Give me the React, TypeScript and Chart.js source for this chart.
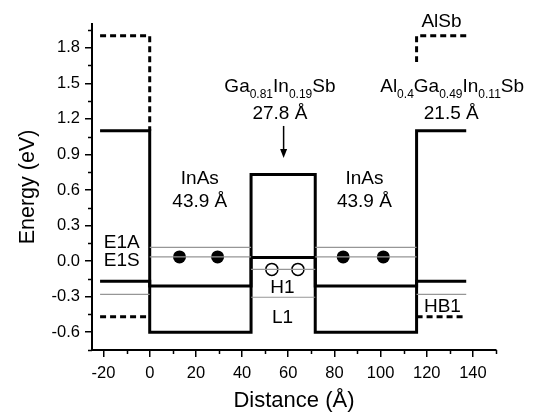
import { useEffect, useRef } from "react";
import { Chart, registerables } from "chart.js";

Chart.register(...registerables);

const FONT = '"Liberation Sans", Arial, Helvetica, sans-serif';

// axis ticks
const X_TICKS = [-20, 0, 20, 40, 60, 80, 100, 120, 140];
const X_MINOR = [-10, 10, 30, 50, 70, 90, 110, 130, 150];
const Y_TICKS = [-0.6, -0.3, 0.0, 0.3, 0.6, 0.9, 1.2, 1.5, 1.8];
const Y_MINOR = [-0.75, -0.45, -0.15, 0.15, 0.45, 0.75, 1.05, 1.35, 1.65, 1.95];

// band profile (distance in Å, energy in eV)
const PROFILE_X = [-21.5, 0, 0, 43.9, 43.9, 71.7, 71.7, 115.6, 115.6, 137.1];
const UPPER_Y = [1.1, 1.1, -0.6, -0.6, 0.73, 0.73, -0.6, -0.6, 1.1, 1.1];
const LOWER_Y = [-0.17, -0.17, -0.21, -0.21, 0.03, 0.03, -0.21, -0.21, -0.17, -0.17];

// AlSb (dashed)
const ALSB_LEFT_X = [-21.5, 0, 0];
const ALSB_LEFT_Y = [1.9, 1.9, 1.1];
const ALSB_RIGHT_X = [137.1, 115.6, 115.6];
const ALSB_RIGHT_Y = [1.9, 1.9, 1.68];
const ALSB_LOW_LEFT_X = [-21.5, 0];
const ALSB_LOW_RIGHT_X = [115.6, 137.1];
const ALSB_LOW_Y = -0.47;

// subband levels (thin gray)
const WELL1_X = [0, 43.9];
const WELL2_X = [71.7, 115.6];
const MID_X = [43.9, 71.7];
const BARRIER_LEFT_X = [-21.5, 0];
const BARRIER_RIGHT_X = [115.6, 137.1];
const E1A = 0.115;
const E1S = 0.035;
const H1 = -0.07;
const L1 = -0.305;
const HB1 = -0.28;

// carriers
const ELECTRON_X = [12.9, 29.4, 83.8, 101.2];
const HOLE_X = [52.9, 64.2];

// arrow
const ARROW_X = 58;
const ARROW_Y = [1.14, 0.87];

// text annotations: parts [text, isSubscript], x, y (cap centre)
type Part = [string, boolean];
const LABELS: { parts: Part[]; x: number; y: number }[] = [
  { parts: [["InAs", false]], x: 21.7, y: 0.71 },
  { parts: [["43.9 Å", false]], x: 21.7, y: 0.513 },
  { parts: [["InAs", false]], x: 93.0, y: 0.71 },
  { parts: [["43.9 Å", false]], x: 93.0, y: 0.513 },
  { parts: [["Ga", false], ["0.81", true], ["In", false], ["0.19", true], ["Sb", false]], x: 56.4, y: 1.486 },
  { parts: [["27.8 Å", false]], x: 56.4, y: 1.26 },
  { parts: [["Al", false], ["0.4", true], ["Ga", false], ["0.49", true], ["In", false], ["0.11", true], ["Sb", false]], x: 131, y: 1.486 },
  { parts: [["21.5 Å", false]], x: 130.6, y: 1.26 },
  { parts: [["AlSb", false]], x: 126.4, y: 2.035 },
  { parts: [["E1A", false]], x: -12.1, y: 0.167 },
  { parts: [["E1S", false]], x: -12.1, y: 0.012 },
  { parts: [["H1", false]], x: 57.5, y: -0.214 },
  { parts: [["L1", false]], x: 57.5, y: -0.464 },
  { parts: [["HB1", false]], x: 126.8, y: -0.369 },
];

const pts = (xs: number[], ys: number[] | number) =>
  xs.map((x, i) => ({ x, y: Array.isArray(ys) ? ys[i] : ys }));

const line = (data: { x: number; y: number }[], opts: any = {}) => ({
  data,
  showLine: true,
  pointRadius: 0,
  borderColor: "#000",
  borderWidth: 3,
  borderCapStyle: "butt",
  borderJoinStyle: "miter",
  fill: false,
  ...opts,
});

const gray = { borderColor: "#969696", borderWidth: 1.2 };
const dashed = { borderDash: [6, 4] };

const extras = {
  id: "extras",
  afterDraw(chart: any) {
    const { ctx, scales } = chart;
    const xs = scales.x;
    const ys = scales.y;
    const area = chart.chartArea;
    ctx.save();
    // minor ticks
    ctx.strokeStyle = "#000";
    ctx.lineWidth = 1.5;
    ctx.beginPath();
    X_MINOR.forEach((v) => {
      const px = Math.round(xs.getPixelForValue(v)) + 0.5;
      ctx.moveTo(px, area.bottom);
      ctx.lineTo(px, area.bottom + 4);
    });
    Y_MINOR.forEach((v) => {
      const py = Math.round(ys.getPixelForValue(v)) + 0.5;
      ctx.moveTo(area.left - 4, py);
      ctx.lineTo(area.left, py);
    });
    ctx.stroke();

    // arrow
    const ax = xs.getPixelForValue(ARROW_X);
    const ay0 = ys.getPixelForValue(ARROW_Y[0]);
    const ay1 = ys.getPixelForValue(ARROW_Y[1]);
    ctx.lineWidth = 1.5;
    ctx.beginPath();
    ctx.moveTo(ax, ay0);
    ctx.lineTo(ax, ay1 - 6);
    ctx.stroke();
    ctx.fillStyle = "#000";
    ctx.beginPath();
    ctx.moveTo(ax, ay1);
    ctx.lineTo(ax - 3.5, ay1 - 9);
    ctx.lineTo(ax + 3.5, ay1 - 9);
    ctx.closePath();
    ctx.fill();

    // labels
    const main = `19px ${FONT}`;
    const sub = `12px ${FONT}`;
    ctx.textBaseline = "alphabetic";
    ctx.textAlign = "left";
    LABELS.forEach((lab) => {
      let w = 0;
      lab.parts.forEach(([t, s]) => {
        ctx.font = s ? sub : main;
        w += ctx.measureText(t).width;
      });
      let cx = xs.getPixelForValue(lab.x) - w / 2;
      const base = ys.getPixelForValue(lab.y) + 6.8;
      lab.parts.forEach(([t, s]) => {
        ctx.font = s ? sub : main;
        ctx.fillText(t, cx, s ? base + 6.5 : base);
        cx += ctx.measureText(t).width;
      });
    });
    ctx.restore();
  },
};

export default function App() {
  const ref = useRef<HTMLCanvasElement>(null);
  useEffect(() => {
    if (!ref.current) return;
    const datasets: any[] = [
      line(pts(WELL1_X, E1A), gray),
      line(pts(WELL1_X, E1S), gray),
      line(pts(WELL2_X, E1A), gray),
      line(pts(WELL2_X, E1S), gray),
      line(pts(MID_X, H1), gray),
      line(pts(MID_X, L1), gray),
      line(pts(BARRIER_LEFT_X, HB1), gray),
      line(pts(BARRIER_RIGHT_X, HB1), gray),
      line(pts(PROFILE_X, UPPER_Y)),
      line(pts(PROFILE_X, LOWER_Y)),
      line(pts(ALSB_LEFT_X, ALSB_LEFT_Y), dashed),
      line(pts(ALSB_RIGHT_X, ALSB_RIGHT_Y), dashed),
      line(pts(ALSB_LOW_LEFT_X, ALSB_LOW_Y), dashed),
      line(pts(ALSB_LOW_RIGHT_X, ALSB_LOW_Y), dashed),
      {
        data: pts(ELECTRON_X, E1S),
        showLine: false,
        pointRadius: 6.5,
        pointBackgroundColor: "#000",
        pointBorderColor: "#000",
        pointBorderWidth: 0,
      },
      {
        data: pts(HOLE_X, H1),
        showLine: false,
        pointRadius: 6,
        pointBackgroundColor: "#fff",
        pointBorderColor: "#000",
        pointBorderWidth: 1.5,
      },
    ];
    const chart = new Chart(ref.current, {
      type: "scatter",
      data: { datasets },
      plugins: [extras],
      options: {
        responsive: false,
        animation: false,
        devicePixelRatio: 1,
        layout: { padding: { top: 24, right: 41, left: 0, bottom: 0 } },
        plugins: {
          legend: { display: false },
          tooltip: { enabled: false },
        },
        elements: { line: { tension: 0 } },
        scales: {
          x: {
            type: "linear",
            min: -25,
            max: 150,
            afterBuildTicks: (s: any) => {
              s.ticks = X_TICKS.map((v) => ({ value: v }));
            },
            afterFit: (s: any) => {
              s.height = 65;
            },
            grid: { drawOnChartArea: false, tickLength: 7, color: "#000", lineWidth: 1.5 },
            border: { color: "#000", width: 2 },
            ticks: {
              color: "#000",
              font: { family: FONT, size: 16.5 },
              padding: 7,
              maxRotation: 0,
              callback: (v: any) => String(v),
            },
            title: {
              display: true,
              text: "Distance (Å)",
              color: "#000",
              font: { family: FONT, size: 22 },
              padding: { top: 0, bottom: 1 },
            },
          },
          y: {
            type: "linear",
            min: -0.75,
            max: 2.0,
            afterBuildTicks: (s: any) => {
              s.ticks = Y_TICKS.map((v) => ({ value: v }));
            },
            afterFit: (s: any) => {
              s.width = 92;
            },
            grid: { drawOnChartArea: false, tickLength: 7, color: "#000", lineWidth: 1.5 },
            border: { color: "#000", width: 2 },
            ticks: {
              color: "#000",
              font: { family: FONT, size: 16.5 },
              padding: 5,
              callback: (v: any) => Number(v).toFixed(1),
            },
            title: {
              display: true,
              text: "Energy (eV)",
              color: "#000",
              font: { family: FONT, size: 21.5 },
              padding: { top: 15, bottom: 0 },
            },
          },
        },
      } as any,
    });
    return () => chart.destroy();
  }, []);
  return (
    <div style={{ position: "absolute", left: 0, top: 0, width: 537, height: 415, background: "#fff" }}>
      <canvas ref={ref} width={537} height={415} />
    </div>
  );
}
